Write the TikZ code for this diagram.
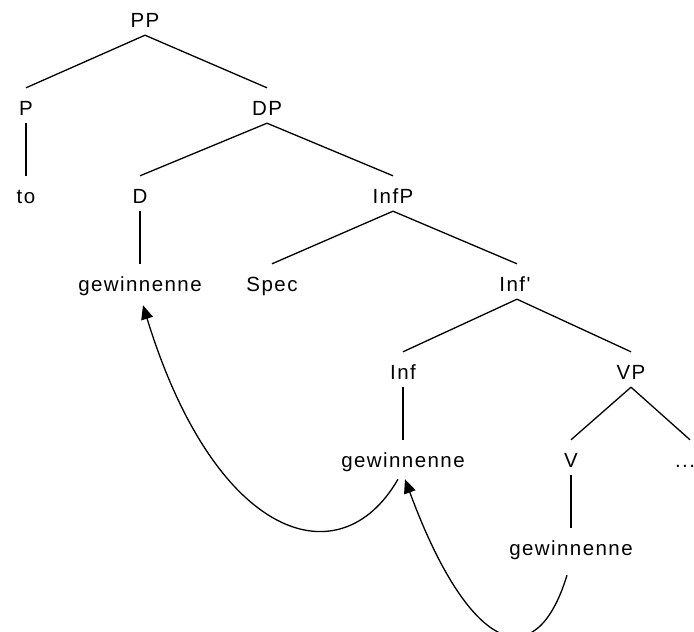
\documentclass[tikz,border=0pt]{standalone}
\usepackage{fontspec}
\newfontfamily\treefont{Liberation Sans}[LetterSpace=7]
\usetikzlibrary{arrows.meta}
\begin{document}
\begin{tikzpicture}[x=1pt,y=-1pt,
  lbl/.style={anchor=base, inner xsep=0pt, inner ysep=0pt, text height=27pt, text depth=8pt,
    font=\treefont\fontsize{20.5}{24}\selectfont},
  branch/.style={line width=1.3pt, black},
  move/.style={line width=1.3pt, black, -{Triangle[length=14pt,width=12pt]}}]
\useasboundingbox (0,0) rectangle (694,632);
% level baselines: 27, 115, 203, 291, 379, 467, 555
\node[lbl] (PP)   at (145,27)  {PP};
\node[lbl] (P)    at (26,115)  {P};
\node[lbl] (DP)   at (267,115) {DP};
\node[lbl] (to)   at (26,203)  {to};
\node[lbl] (D)    at (140,203) {D};
\node[lbl] (InfP) at (393,203) {InfP};
\node[lbl] (gA)   at (140,291) {gewinnenne};
\node[lbl] (Spec) at (272,291) {Spec};
\node[lbl] (Infb) at (515,291) {Inf'};
\node[lbl] (Inf)  at (403,379) {Inf};
\node[lbl] (VP)   at (631,379) {VP};
\node[lbl] (gB)   at (403,467) {gewinnenne};
\node[lbl] (V)    at (571,467) {V};
\node[lbl] (dots) at (685,467) {...};
\node[lbl] (gC)   at (571,555) {gewinnenne};

\draw[branch] (PP.south) -- (P.north);
\draw[branch] (PP.south) -- (DP.north);
\draw[branch] (P.south) -- (to.north);
\draw[branch] (DP.south) -- (D.north);
\draw[branch] (DP.south) -- (InfP.north);
\draw[branch] (D.south) -- (gA.north);
\draw[branch] (InfP.south) -- (Spec.north);
\draw[branch] (InfP.south) -- ([xshift=2]Infb.north);
\draw[branch] ([xshift=2]Infb.south) -- (Inf.north);
\draw[branch] ([xshift=2]Infb.south) -- (VP.north);
\draw[branch] (Inf.south) -- (gB.north);
\draw[branch] (VP.south) -- (V.north);
\draw[branch] (VP.south) -- ([xshift=5]dots.north);
\draw[branch] (V.south) -- (gC.north);

\draw[move] ([shift={(-5,4)}]gB.south) .. controls (340,580) and (215,540) .. ([shift={(3,6)}]gA.south);
\draw[move] ([shift={(-4,12)}]gC.south) .. controls (535,680) and (468,650) .. ([shift={(2,4)}]gB.south);
\end{tikzpicture}
\end{document}
